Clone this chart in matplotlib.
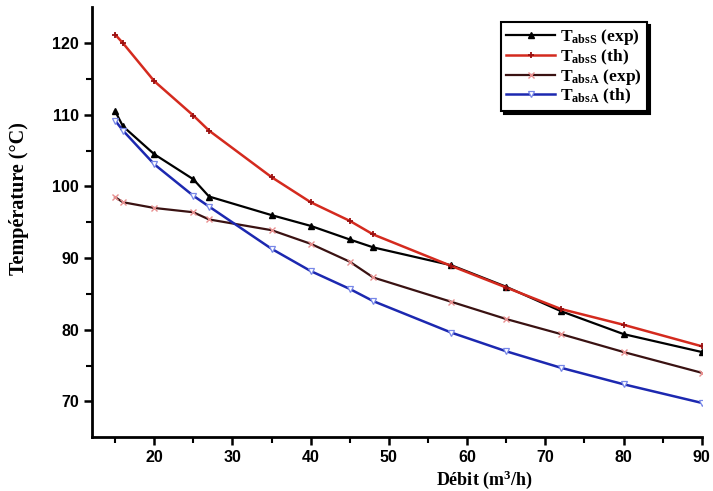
import matplotlib.pyplot as plt
import numpy as np

plt.rcParams['mathtext.fontset'] = 'custom'
plt.rcParams['mathtext.rm'] = 'Liberation Serif:bold'
plt.rcParams['mathtext.it'] = 'Liberation Serif:bold'
plt.rcParams['mathtext.bf'] = 'Liberation Serif:bold'

# flow rates (m3/h)
debit = [15, 16, 20, 25, 27, 35, 40, 45, 48, 58, 65, 72, 80, 90]

# absorber temperatures (degC)
t_abss_exp = [110.5, 108.4, 104.5, 101.0, 98.6, 96.0, 94.5, 92.6, 91.5, 89.0, 86.0, 82.6, 79.4, 76.9]
t_abss_th = [121.2, 120.0, 114.7, 109.9, 107.8, 101.3, 97.8, 95.2, 93.3, 88.9, 85.9, 82.9, 80.7, 77.7]
t_absa_exp = [98.5, 97.8, 97.0, 96.4, 95.4, 93.9, 92.0, 89.5, 87.3, 83.9, 81.5, 79.4, 76.9, 74.0]
t_absa_th = [109.2, 107.8, 103.1, 98.7, 97.2, 91.3, 88.2, 85.7, 84.0, 79.6, 77.0, 74.7, 72.4, 69.8]

labels = [r'T$_{\rm absS}$ (exp)', r'T$_{\rm absS}$ (th)',
          r'T$_{\rm absA}$ (exp)', r'T$_{\rm absA}$ (th)']

fig = plt.figure(figsize=(7.13, 4.91), dpi=100)
ax = fig.add_axes([0.1286, 0.1094, 0.8556, 0.8757])

ax.plot(debit, t_abss_exp, color='black', lw=1.6, marker='^', ms=5,
        mfc='black', mec='black', label=labels[0])
ax.plot(debit, t_abss_th, color='#d42a1e', lw=1.8, marker='+', ms=5,
        mew=1.3, mec='#9a1010', label=labels[1])
ax.plot(debit, t_absa_exp, color='#3a1212', lw=1.6, marker='x', ms=4,
        mew=1.0, mec='#e89090', label=labels[2])
ax.plot(debit, t_absa_th, color='#1c28b0', lw=1.8, marker='v', ms=4.5,
        mew=0.9, mfc='white', mec='#7888e8', label=labels[3])

ax.set_xlim(12, 90)
ax.set_ylim(65, 125)
ax.set_xticks(np.arange(20, 91, 10))
ax.set_xticks(np.arange(15, 91, 10), minor=True)
ax.set_yticks(np.arange(70, 121, 10))
ax.set_yticks(np.arange(75, 121, 10), minor=True)

for s in ['top', 'right']:
    ax.spines[s].set_visible(False)
for s in ['left', 'bottom']:
    ax.spines[s].set_linewidth(2.0)

ax.tick_params(which='major', direction='out', length=6, width=1.8,
               labelsize=11.5, pad=3)
ax.tick_params(which='minor', direction='out', length=4, width=1.5)
for lab in ax.get_xticklabels() + ax.get_yticklabels():
    lab.set_family('Liberation Sans')
    lab.set_fontweight('bold')

ax.set_xlabel(r'Débit (m$^{\rm 3}$/h)', family='Liberation Serif',
              fontweight='bold', fontsize=13)
ax.xaxis.set_label_coords(0.643, -0.072)
ax.set_ylabel('Température (°C)', family='Liberation Serif',
              fontweight='bold', fontsize=14.5)
ax.yaxis.set_label_coords(-0.103, 0.556)

leg = ax.legend(loc='upper left', bbox_to_anchor=(0.6705, 0.966),
                borderaxespad=0, fancybox=False, framealpha=1,
                edgecolor='black', handlelength=2.8, handletextpad=0.3,
                labelspacing=0.0, borderpad=0.32,
                shadow={'color': 'black', 'alpha': 1},
                prop={'family': 'Liberation Serif', 'weight': 'bold', 'size': 12.5})
leg.get_frame().set_linewidth(1.5)

fig.savefig('out.png', dpi=100)
